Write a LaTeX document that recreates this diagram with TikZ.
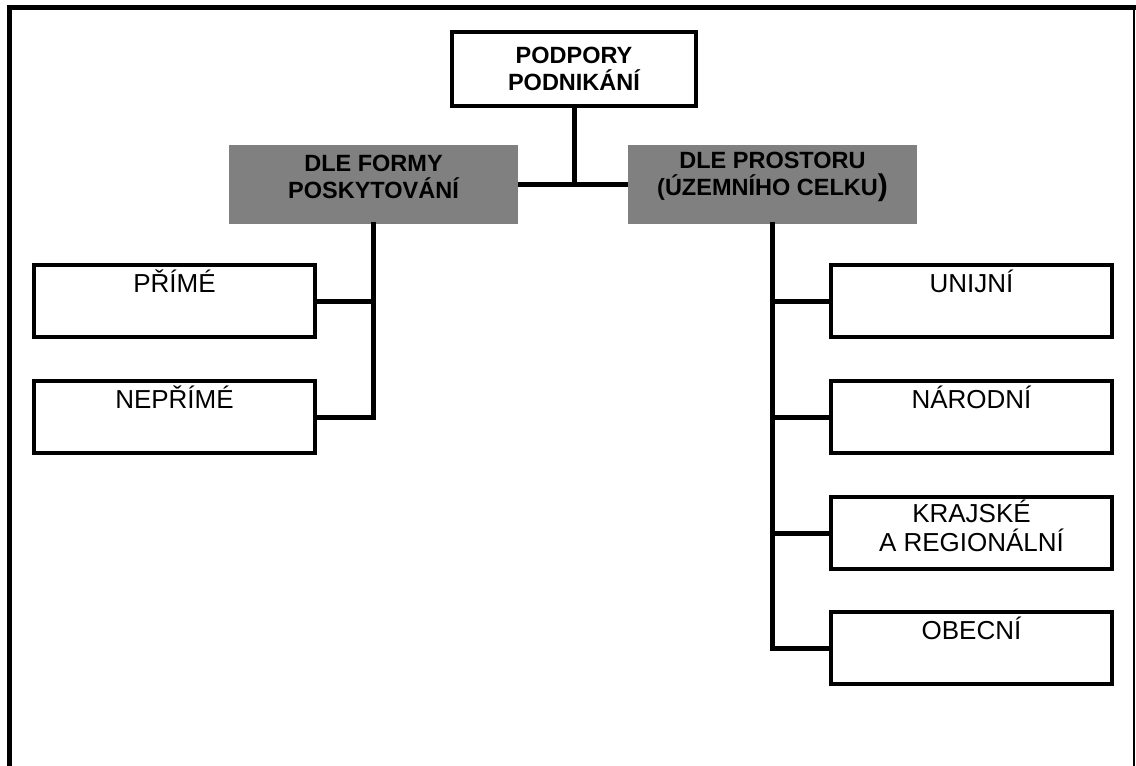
\documentclass[tikz,border=0pt]{standalone}
\usepackage{fontspec}
\setmainfont{Liberation Sans}
\definecolor{boxgray}{RGB}{128,128,128}
\begin{document}
\begin{tikzpicture}[x=1pt,y=-1pt,
  box/.style={draw=black, line width=4pt, fill=white, minimum width=281pt, minimum height=72pt, inner sep=0pt},
  topbox/.style={draw=black, line width=4pt, fill=white, minimum width=244pt, minimum height=74pt, inner sep=0pt, align=center, font=\fontsize{23.5}{26.5}\selectfont\bfseries},
  graybox/.style={fill=boxgray, draw=none, minimum width=289pt, minimum height=79pt, inner sep=0pt},
  graytext/.style={align=center, inner sep=0pt, font=\fontsize{23.5}{27}\selectfont\bfseries},
  boxtext/.style={align=center, inner sep=0pt, font=\fontsize{26}{29}\selectfont},
  conn/.style={line width=5pt, line cap=rect}
]
\useasboundingbox (0,0) rectangle (1136,766);
% outer frame
\draw[line width=5pt] (9,766) -- (9,7.5) -- (1136,7.5);
\draw[line width=1.2pt] (1134,7.5) -- (1134,766);

% nodes
\node[topbox] (top) at (574,69) {PODPORY\\PODNIK\'AN\'I};
\node[graybox] (gl) at (373.5,184.5) {};
\node[graybox] (gr) at (772.5,184.5) {};
\node[graytext] (glt) at ([yshift=8pt]gl.center) {DLE FORMY\\POSKYTOV\'AN\'I};
\node[graytext] (grt) at ([yshift=8pt]gr.center) {DLE PROSTORU\\(\'UZEMN\'IHO CELKU{\fontsize{30}{30}\selectfont)}};

\node[box] (p1) at (174.5,301) {};
\node[box] (p2) at (174.5,417) {};
\node[boxtext] (p1t) at ([yshift=20pt]p1.center) {PŘÍMÉ};
\node[boxtext] (p2t) at ([yshift=20pt]p2.center) {NEPŘÍMÉ};

\node[box] (r1) at (971.5,301) {};
\node[box] (r2) at (971.5,417) {};
\node[box] (r3) at (971.5,533) {};
\node[box] (r4) at (971.5,648) {};
\node[boxtext] (r1t) at ([yshift=20pt]r1.center) {UNIJNÍ};
\node[boxtext] (r2t) at ([yshift=20pt]r2.center) {NÁRODNÍ};
\node[boxtext] (r3t) at ([yshift=7pt]r3.center) {KRAJSKÉ\\A REGIONÁLNÍ};
\node[boxtext] (r4t) at ([yshift=20pt]r4.center) {OBECNÍ};

% connectors
\draw[conn] (top.south) -- (top.south |- gl.east);
\draw[conn, line cap=butt] (gl.east) -- (gr.west);
\draw[conn] (gl.south) -- (gl.south |- p2.east) -- (p2.east);
\draw[conn, line cap=butt] (p1.east) -- (p1.east -| gl.south);
\draw[conn] (gr.south) -- (gr.south |- r4.west) -- (r4.west);
\draw[conn, line cap=butt] (r1.west) -- (r1.west -| gr.south);
\draw[conn, line cap=butt] (r2.west) -- (r2.west -| gr.south);
\draw[conn, line cap=butt] (r3.west) -- (r3.west -| gr.south);
\end{tikzpicture}
\end{document}
